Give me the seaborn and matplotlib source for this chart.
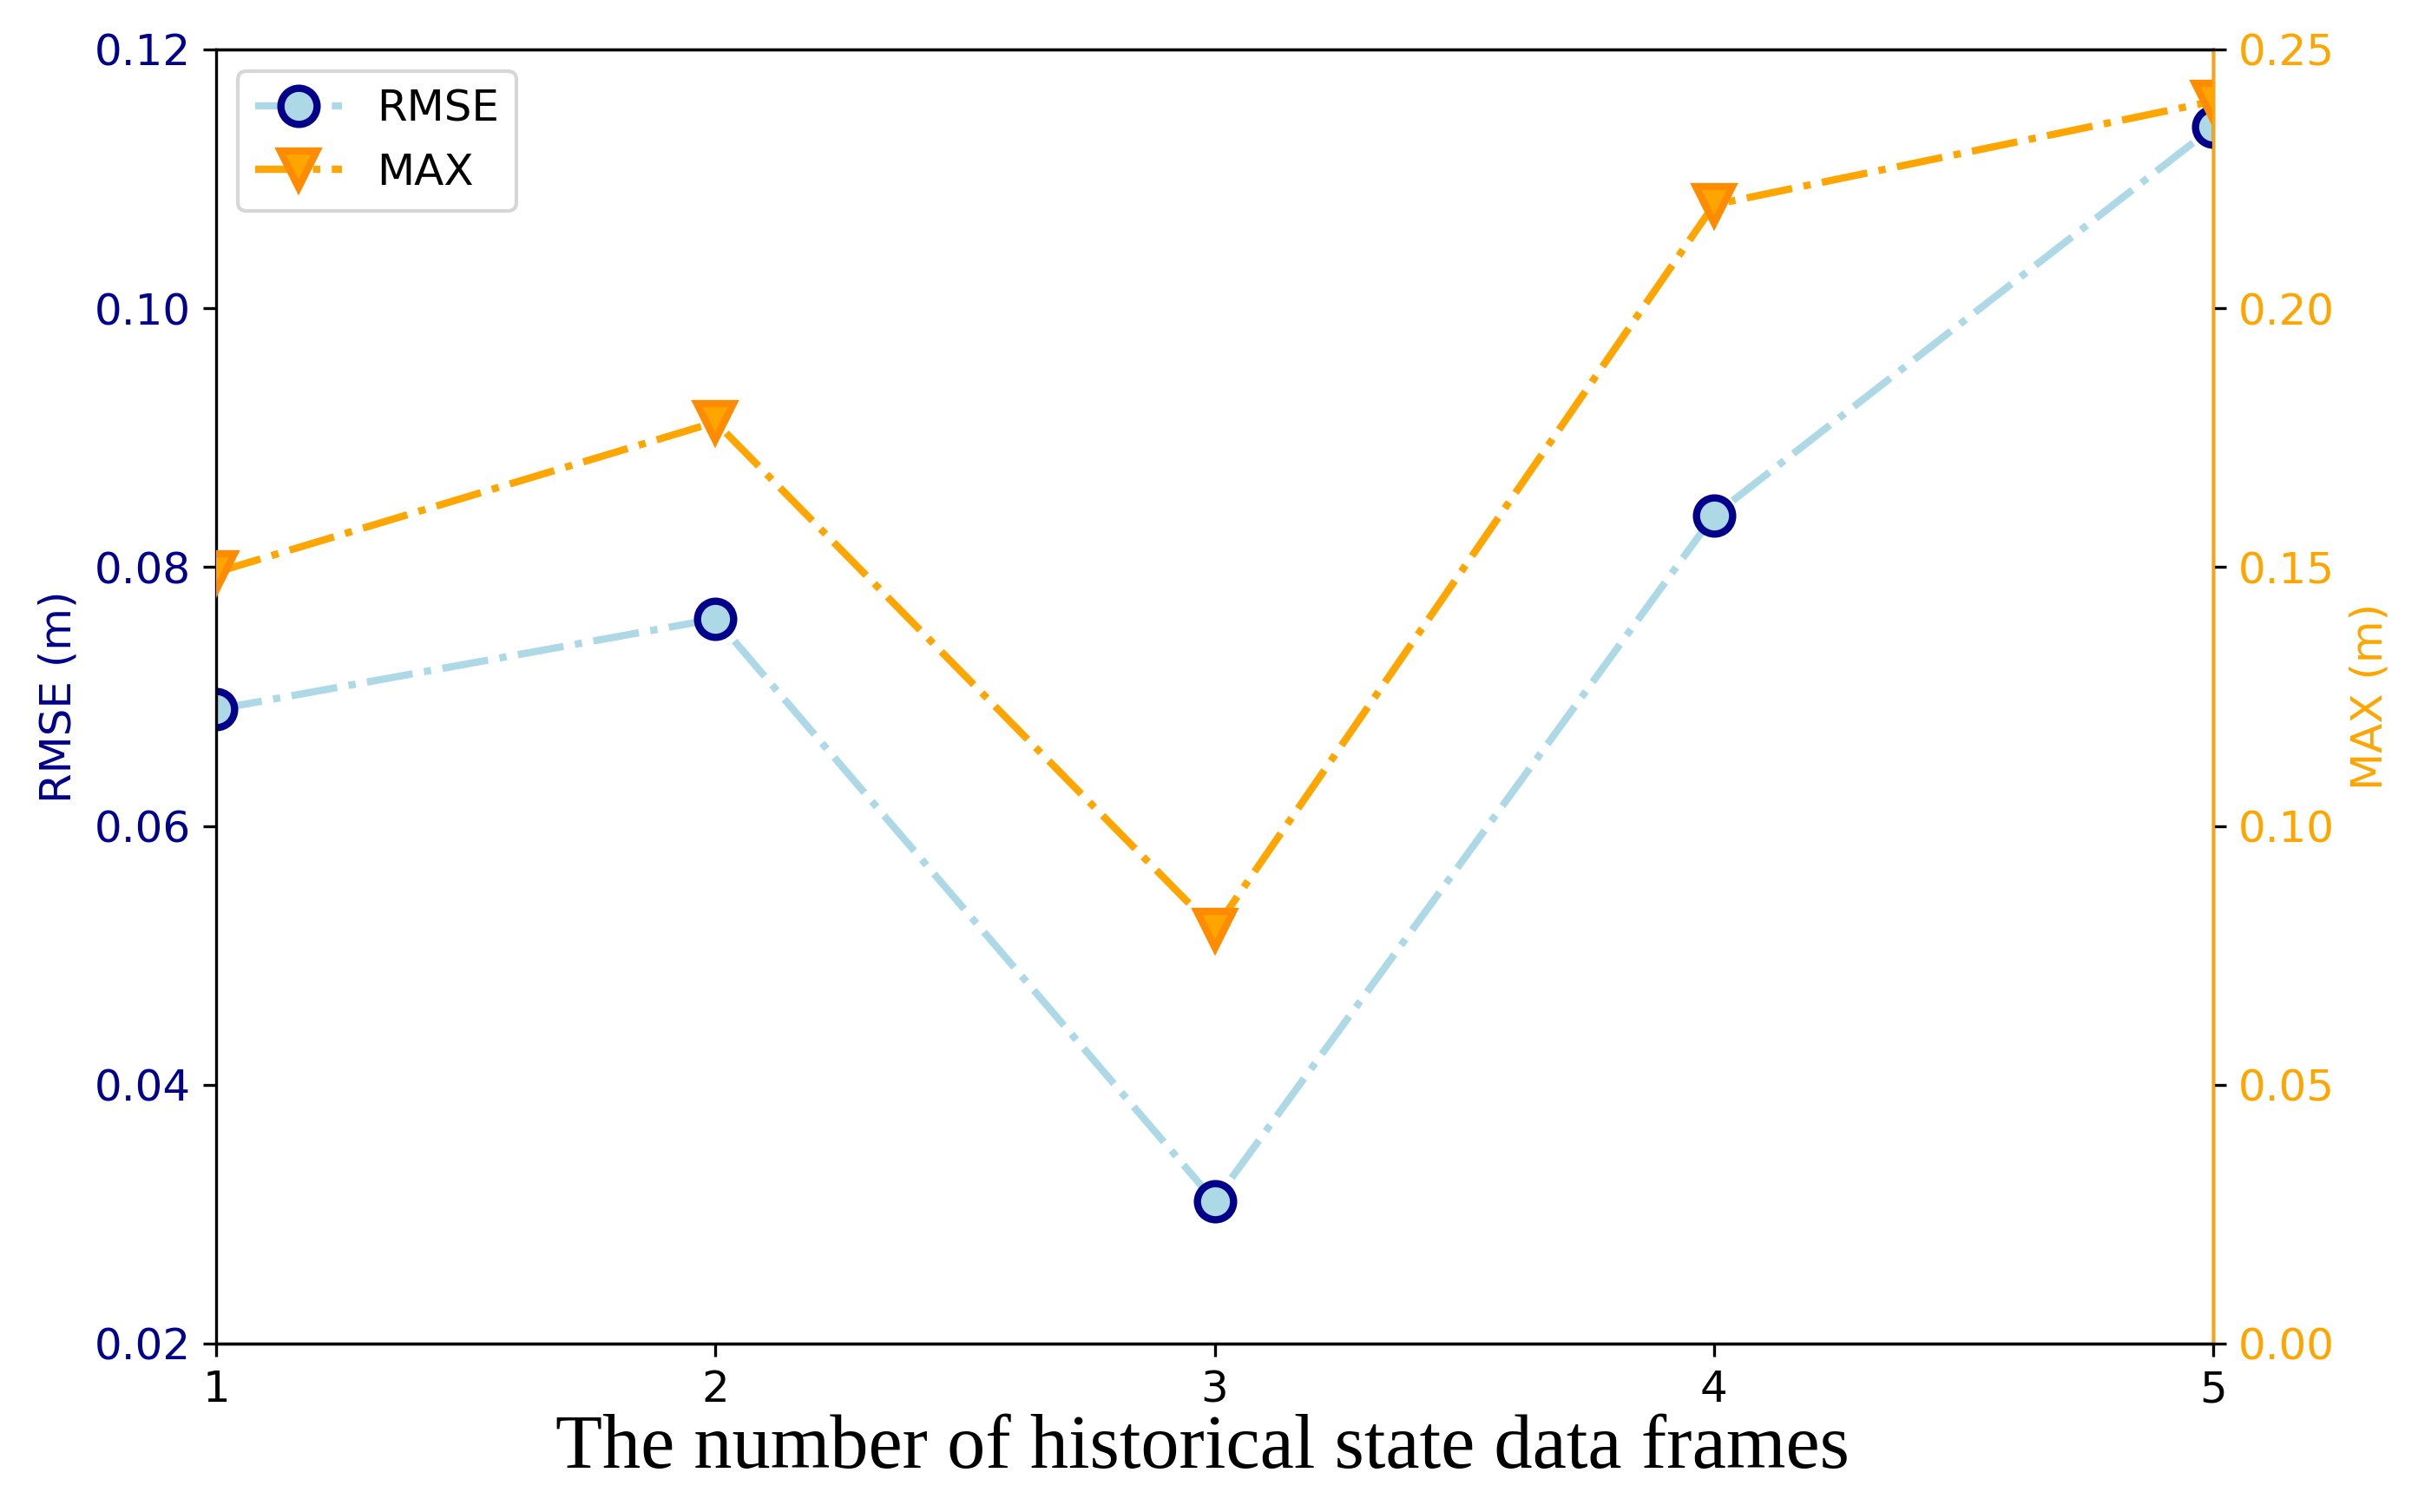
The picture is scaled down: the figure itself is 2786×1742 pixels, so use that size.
import matplotlib
matplotlib.use("Agg")
import matplotlib.pyplot as plt
import seaborn as sns
import pandas as pd

frames = [1, 2, 3, 4, 5]
rmse = [0.069, 0.076, 0.031, 0.084, 0.114]
max_err = [0.149, 0.178, 0.080, 0.220, 0.240]
x_ticks = [1, 2, 3, 4, 5]
rmse_ticks = [0.02, 0.04, 0.06, 0.08, 0.10, 0.12]
max_ticks = [0.00, 0.05, 0.10, 0.15, 0.20, 0.25]

sns.set_style("ticks")
plt.rcParams['font.family'] = ['DejaVu Sans']
plt.rcParams['font.size'] = 12
for k in ['text.color', 'axes.labelcolor', 'xtick.color', 'ytick.color', 'axes.edgecolor']:
    plt.rcParams[k] = 'black'

df = pd.DataFrame({"frames": frames, "RMSE": rmse, "MAX": max_err})

fig, ax1 = plt.subplots(figsize=(2786 / 300, 1742 / 300), dpi=300)
fig.subplots_adjust(left=0.0894, right=0.9153, top=0.9673, bottom=0.1114)

sns.lineplot(data=df, x="frames", y="RMSE", ax=ax1, color="lightblue",
             linestyle="-.", linewidth=2, marker="o", markersize=10,
             markerfacecolor="lightblue", markeredgecolor="darkblue",
             markeredgewidth=2, label="RMSE", legend=False)
ax2 = ax1.twinx()
sns.lineplot(data=df, x="frames", y="MAX", ax=ax2, color="orange",
             linestyle="-.", linewidth=2, marker="v", markersize=10,
             markerfacecolor="orange", markeredgecolor="darkorange",
             markeredgewidth=2, label="MAX", legend=False)

ax1.set_xlim(1, 5)
ax1.set_xticks(x_ticks)
ax1.set_ylim(0.02, 0.12)
ax1.set_yticks(rmse_ticks)
ax1.set_yticklabels([f"{t:.2f}" for t in rmse_ticks])
ax2.set_ylim(0.0, 0.25)
ax2.set_yticks(max_ticks)
ax2.set_yticklabels([f"{t:.2f}" for t in max_ticks])

ax1.set_xlabel("The number of historical state data frames",
               family=["Liberation Serif"], fontsize=21.2, labelpad=1, color="black")
ax1.xaxis.set_label_coords(0.494, -0.033, transform=None) if False else None
ax1.xaxis.label.set_x(0.494)
ax1.set_ylabel("RMSE (m)", color="darkblue", fontsize=12)
ax2.set_ylabel("MAX (m)", color="orange", fontsize=12)
ax1.tick_params(axis="y", labelcolor="darkblue", direction="out", labelsize=12)
ax2.tick_params(axis="y", labelcolor="orange", direction="out", labelsize=12)
ax1.tick_params(axis="x", direction="out", labelsize=12)
ax2.spines["right"].set_color("orange")
ax2.spines["left"].set_visible(False)

h1, l1 = ax1.get_legend_handles_labels()
h2, l2 = ax2.get_legend_handles_labels()
ax2.legend(h1 + h2, l1 + l2, loc="upper left", fontsize=12, frameon=True)

fig.savefig("out.png", dpi=300)
